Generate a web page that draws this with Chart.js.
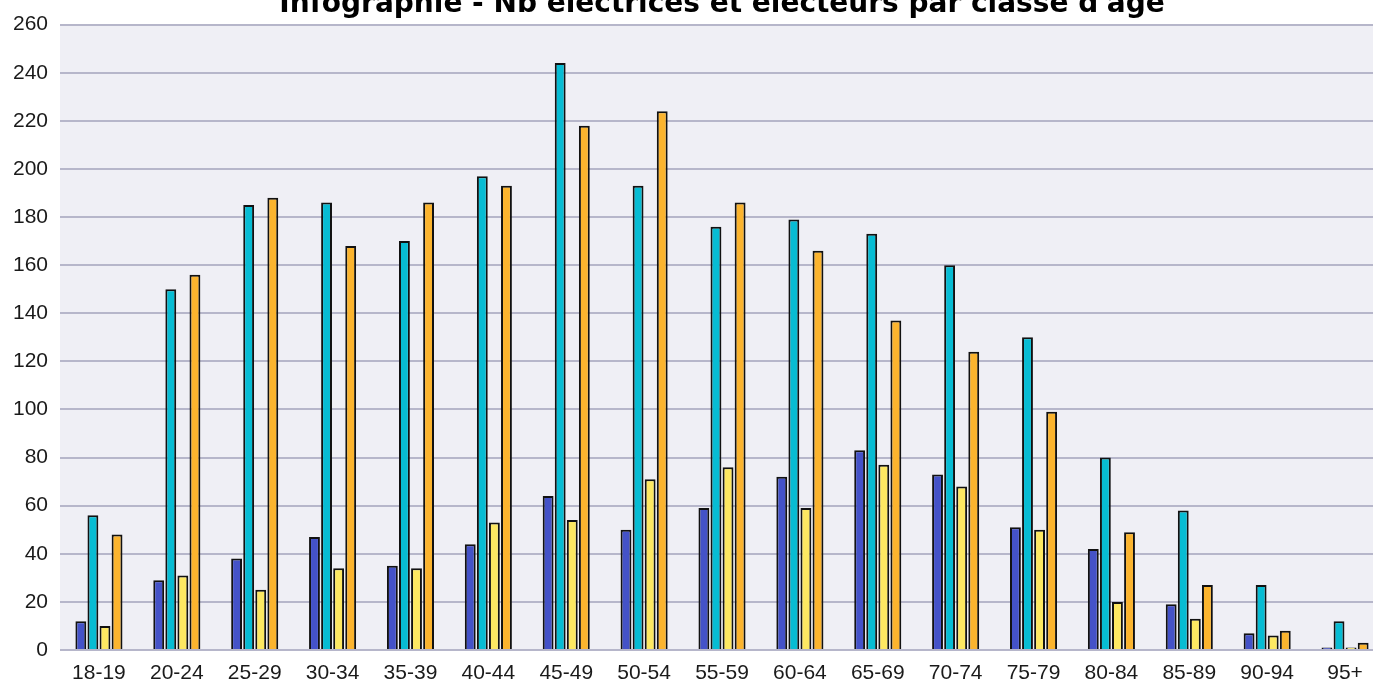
<!DOCTYPE html>
<html>
<head>
<meta charset="utf-8">
<script src="https://cdn.jsdelivr.net/npm/chart.js@4"></script>
<style>
  html, body { margin: 0; padding: 0; background: #fff; overflow: hidden; }
  #wrap { position: absolute; left: 0; top: -14px; width: 1384px; height: 697px; }
</style>
</head>
<body>
<div id="wrap"><canvas id="myChart"></canvas></div>
<script>
// tranches d'age
var ages = ['18-19','20-24','25-29','30-34','35-39','40-44','45-49','50-54','55-59','60-64','65-69','70-74','75-79','80-84','85-89','90-94','95+'];

// series
var serie1 = [12, 29, 38, 47, 35, 44, 64, 50, 59, 72, 83, 73, 51, 42, 19, 7, 1];
var serie2 = [56, 150, 185, 186, 170, 197, 244, 193, 176, 179, 173, 160, 130, 80, 58, 27, 12];
var serie3 = [10, 31, 25, 34, 34, 53, 54, 71, 76, 59, 77, 68, 50, 20, 13, 6, 1];
var serie4 = [48, 156, 188, 168, 186, 193, 218, 224, 186, 166, 137, 124, 99, 49, 27, 8, 3];

var colors = ['#4452c8', '#07bcd3', '#fde862', '#fbb42e'];

var ctx = document.getElementById('myChart');

// light lavender plot background
var plotBg = {
  id: 'plotBg',
  beforeDraw: function(chart) {
    var a = chart.chartArea, c = chart.ctx;
    c.save();
    c.fillStyle = '#efeff5';
    c.fillRect(a.left, a.top, a.right - a.left, a.bottom - a.top);
    c.restore();
  }
};

function makeSet(label, data, color) {
  return {
    label: label,
    data: data,
    backgroundColor: color,
    borderColor: '#111',
    borderWidth: 2,
    categoryPercentage: 0.62,
    barPercentage: 0.9
  };
}

var myChart = new Chart(ctx, {
  type: 'bar',
  data: {
    labels: ages,
    datasets: [
      makeSet('s1', serie1, colors[0]),
      makeSet('s2', serie2, colors[1]),
      makeSet('s3', serie3, colors[2]),
      makeSet('s4', serie4, colors[3])
    ]
  },
  options: {
    responsive: true,
    maintainAspectRatio: false,
    animation: false,
    layout: { padding: 0 },
    plugins: {
      legend: { display: false },
      tooltip: { enabled: false },
      title: {
        display: true,
        fullSize: false,
        text: "Infographie - Nb électrices et électeurs par classe d'âge",
        color: '#000',
        font: { family: 'DejaVu Sans', size: 28, weight: 'bold' },
        padding: { top: 2, bottom: 3 }
      }
    },
    scales: {
      x: {
        grid: { display: false },
        border: { display: false },
        ticks: { color: '#1a1a1a', font: { family: 'Liberation Sans', size: 21 }, padding: 3 },
        afterFit: function(s) { s.height = 33; }
      },
      y: {
        min: 0,
        max: 260,
        border: { display: false },
        grid: { color: '#b6b6ca', lineWidth: 2, drawTicks: false },
        ticks: { stepSize: 20, color: '#1a1a1a', font: { family: 'Liberation Sans', size: 21 }, padding: 12 },
        afterFit: function(s) { s.width = 60; }
      }
    }
  },
  plugins: [plotBg]
});
</script>
</body>
</html>
